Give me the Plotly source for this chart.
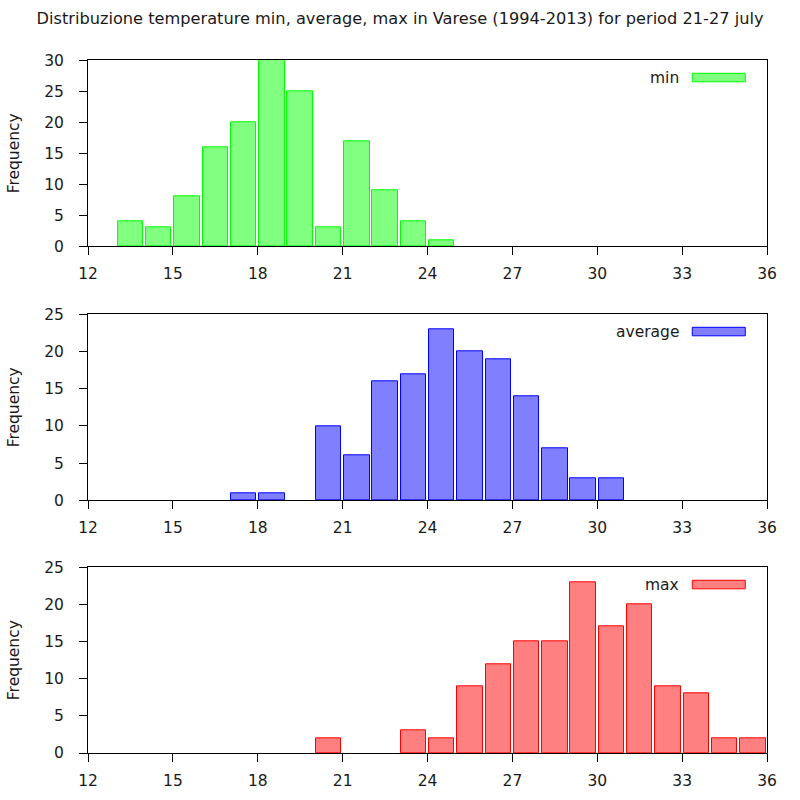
import plotly.graph_objects as go

# ---- data ----
min_bins = [13, 14, 15, 16, 17, 18, 19, 20, 21, 22, 23, 24]
min_counts = [4, 3, 8, 16, 20, 30, 25, 3, 17, 9, 4, 1]

avg_bins = [17, 18, 20, 21, 22, 23, 24, 25, 26, 27, 28, 29, 30]
avg_counts = [1, 1, 10, 6, 16, 17, 23, 20, 19, 14, 7, 3, 3]

max_bins = [20, 23, 24, 25, 26, 27, 28, 29, 30, 31, 32, 33, 34, 35]
max_counts = [2, 3, 2, 9, 12, 15, 15, 23, 17, 20, 9, 8, 2, 2]

x_ticks = [12, 15, 18, 21, 24, 27, 30, 33, 36]
title_text = "Distribuzione temperature min, average, max in Varese (1994-2013) for period 21-27 july"

series = [
    ("min", min_bins, min_counts, "#80ff80", "#00ff00", 30),
    ("average", avg_bins, avg_counts, "#8080ff", "#0000ff", 25),
    ("max", max_bins, max_counts, "#ff8080", "#ff0000", 25),
]

FONT = "DejaVu Sans"
FS = 15.5
TXT = "#1a1a1a"
fig = go.Figure()

# plot area pixel geometry (800x800, margins t=60 b=47)
t, b = 60, 47
H = 800 - t - b
panels_px = [(60.3, 246.3), (314.3, 500.3), (567.3, 753.0)]
domains = [[(800 - b - bot) / H, min(1.0, (800 - b - top) / H)] for top, bot in panels_px]

for i, (name, bins, counts, fill, line, ymax) in enumerate(series):
    idx = "" if i == 0 else str(i + 1)
    fig.add_trace(go.Bar(
        x=[v + 0.5 for v in bins], y=counts, width=0.9,
        marker=dict(color=fill, line=dict(color=line, width=1)),
        name=name, showlegend=False,
        xaxis="x" + idx, yaxis="y" + idx,
    ))
    common = dict(showline=True, linecolor="black", linewidth=1, mirror=True,
                  ticks="outside", ticklen=8, tickwidth=1, tickcolor="black",
                  showgrid=False, zeroline=False, automargin=False,
                  tickfont=dict(family=FONT, size=FS, color=TXT))
    fig.update_layout(**{
        "xaxis" + idx: dict(range=[12, 36], tickvals=x_ticks, anchor="y" + idx,
                            domain=[0, 1], ticklabelstandoff=5, **common),
        "yaxis" + idx: dict(range=[0, ymax], dtick=5, anchor="x" + idx,
                            domain=domains[i], ticklabelstandoff=12,
                            title=dict(text="Frequency", font=dict(family=FONT, size=FS, color=TXT), standoff=20),
                            **common),
    })
    # key (gnuplot style: label then sample box)
    top_px = panels_px[i][0]
    y0 = (800 - b - (top_px + 13)) / H
    y1 = (800 - b - (top_px + 21.5)) / H
    fig.add_shape(type="rect", xref="paper", yref="paper",
                  x0=(692 - 88) / 678.7, x1=(745 - 88) / 678.7, y0=y1, y1=y0,
                  fillcolor=fill, line=dict(color=line, width=1))
    fig.add_annotation(text=name, xref="paper", yref="paper",
                       x=(681 - 88) / 678.7, y=(y0 + y1) / 2, xanchor="right", yanchor="middle",
                       showarrow=False, font=dict(family=FONT, size=FS, color=TXT))

fig.update_layout(
    width=800, height=800,
    margin=dict(l=88, r=33, t=t, b=b, autoexpand=False),
    paper_bgcolor="white", plot_bgcolor="white",
    title=dict(text=title_text, x=0.5, xanchor="center", y=1 - 18 / 800, yanchor="middle",
               font=dict(family=FONT, size=16.2, color=TXT), automargin=False),
    bargap=0,
)

fig.write_html("out.html")
